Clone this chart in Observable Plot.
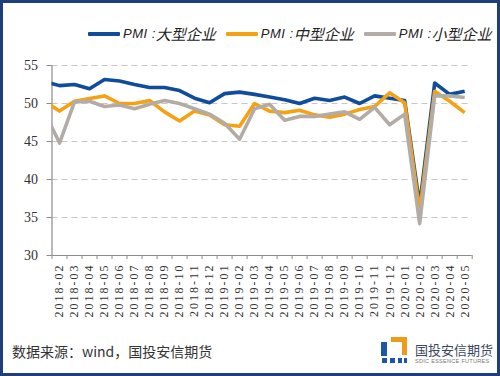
<!DOCTYPE html>
<html><head><meta charset="utf-8">
<script src="https://cdn.jsdelivr.net/npm/d3@7"></script>
<script src="https://cdn.jsdelivr.net/npm/@observablehq/plot@0.6"></script>
<style>
body{margin:0;background:#fff;}
#wrap{position:relative;width:500px;height:376px;overflow:hidden;background:#fff;font-family:"Noto Sans CJK SC","Noto Sans",sans-serif;}
#frame{position:absolute;left:0;top:0;width:500px;height:376px;box-sizing:border-box;border:3px solid #1f3e7c;pointer-events:none;}
#chart{position:absolute;left:0;top:0;}
#legend{position:absolute;top:23px;left:88px;display:flex;align-items:center;font-style:italic;font-size:15px;color:#222;white-space:nowrap;}
.item{display:flex;align-items:center;margin-right:10px;}
.swatch{width:32px;height:4px;margin-right:3px;border-radius:1px;}
.pmi{font-family:"Liberation Sans",sans-serif;font-size:13px;letter-spacing:0.5px;}
#source{position:absolute;left:12px;top:341px;font-size:14px;color:#333;white-space:nowrap;}
#logo{position:absolute;left:381px;top:336px;width:112px;height:30px;}
#logo div{position:absolute;}
#chart svg, #chart svg text, #chart svg g{font-family:"Liberation Serif","DejaVu Serif",serif !important;}
#chart g[aria-label="x-axis tick label"] text{letter-spacing:2px;}
</style></head>
<body>
<div id="wrap">
  <div id="legend"></div>
  <div id="chart"></div>
  <div id="source">数据来源：wind，国投安信期货</div>
  <div id="logo">
    <div style="left:10px;top:1px;width:16px;height:5px;background:#f09a1a"></div>
    <div style="left:21px;top:1px;width:5px;height:18px;background:#f09a1a"></div>
    <div style="left:0px;top:6px;width:6px;height:14px;background:#1d56a8"></div>
    <div style="left:1px;top:22px;width:5px;height:5px;background:#1d56a8"></div>
    <div style="left:9px;top:22px;width:5px;height:5px;background:#1d56a8"></div>
    <div style="left:17px;top:22px;width:4px;height:5px;background:#1d56a8"></div>
    <div style="left:23px;top:22px;width:3px;height:5px;background:#1d56a8"></div>
    <div style="left:34px;top:7px;font-size:13px;color:#3b4660;white-space:nowrap;line-height:14px;">国投安信期货</div>
    <div style="left:34px;top:22px;font-size:5.5px;color:#777;white-space:nowrap;letter-spacing:0.3px;line-height:7px;font-family:'Liberation Sans',sans-serif;">SDIC ESSENCE FUTURES</div>
  </div>
  <div id="frame"></div>
</div>
<script>
// Months (index 0 = 2018-01 lies just left of the plot frame and is clipped)
const months = ["2018-01","2018-02","2018-03","2018-04","2018-05","2018-06","2018-07","2018-08","2018-09","2018-10","2018-11","2018-12",
  "2019-01","2019-02","2019-03","2019-04","2019-05","2019-06","2019-07","2019-08","2019-09","2019-10","2019-11","2019-12",
  "2020-01","2020-02","2020-03","2020-04","2020-05"];
const large  = [52.9, 52.35, 52.5, 51.95, 53.15, 52.95, 52.5, 52.1, 52.1, 51.7, 50.7, 50.1, 51.3, 51.5,
  51.2, 50.85, 50.5, 50.0, 50.7, 50.4, 50.85, 50.0, 51.0, 50.7, 50.4, 36.6, 52.7, 51.2, 51.6];
const medium = [50.3, 49.0, 50.3, 50.65, 51.0, 50.0, 50.0, 50.4, 48.9, 47.7, 49.0, 48.5, 47.2, 47.0,
  50.0, 49.0, 48.8, 49.1, 48.5, 48.2, 48.6, 49.2, 49.6, 51.4, 50.1, 35.8, 51.6, 50.3, 48.8];
const small  = [48.9, 44.8, 50.2, 50.3, 49.6, 49.8, 49.3, 49.9, 50.4, 50.0, 49.3, 48.6, 47.4, 45.3,
  49.3, 49.9, 47.8, 48.3, 48.3, 48.6, 48.9, 47.9, 49.5, 47.2, 48.6, 34.2, 51.0, 51.0, 50.8];
const seriesPrefix = "PMI :";
const seriesNames  = ["大型企业", "中型企业", "小型企业"];
const seriesColors = ["#0f4c9c", "#f4a213", "#b3aca6"];
const yTicks = [30, 35, 40, 45, 50, 55];

const seriesValues = [large, medium, small];

// legend
const legend = document.getElementById("legend");
seriesNames.forEach((n, k) => {
  const it = document.createElement("div"); it.className = "item";
  const sw = document.createElement("div"); sw.className = "swatch"; sw.style.background = seriesColors[k];
  const p = document.createElement("span"); p.className = "pmi"; p.textContent = seriesPrefix;
  const tx = document.createElement("span"); tx.textContent = n;
  it.appendChild(sw); it.appendChild(p); it.appendChild(tx); legend.appendChild(it);
});

const labelIdx = months.map((_, i) => i).filter(i => i >= 1);
const bounds = months.map((_, i) => i + 0.5);
const axisColor = "#8c8c8c";
const serif = "Liberation Serif";

const lineMarks = seriesValues.map((vals, k) =>
  Plot.line(vals, {x: (d, i) => i, y: d => d, stroke: seriesColors[k], strokeWidth: 3.6,
    strokeLinejoin: "round", strokeLinecap: "butt", clip: true}));

const chart = Plot.plot({
  width: 500, height: 330,
  marginLeft: 51.5, marginRight: 28.3, marginTop: 65, marginBottom: 75,
  style: {background: "transparent", color: "#333"},
  x: {type: "linear", domain: [0.5, months.length - 0.5]},
  y: {domain: [30, 55]},
  marks: [
    Plot.gridY(yTicks.filter(t => t > 30), {stroke: "#c6c6c6", strokeOpacity: 1, strokeDasharray: "6,4"}),
    Plot.axisY(yTicks, {tickSize: 5, tickPadding: 9, fontSize: 14, fontFamily: serif, stroke: axisColor, fill: "#333", label: null}),
    Plot.axisX(bounds, {tickSize: 4, tickFormat: () => "", stroke: axisColor, label: null}),
    Plot.axisX(labelIdx, {tickSize: 0, tickPadding: 8, tickRotate: -90, tickFormat: i => months[i], fontSize: 12, fontFamily: serif, fill: "#333", label: null}),
    Plot.ruleX([0.5], {stroke: axisColor, strokeWidth: 1.2}),
    Plot.ruleY([30], {stroke: axisColor, strokeWidth: 1.2}),
    ...lineMarks
  ]
});
document.getElementById("chart").appendChild(chart);
</script>
</body></html>
